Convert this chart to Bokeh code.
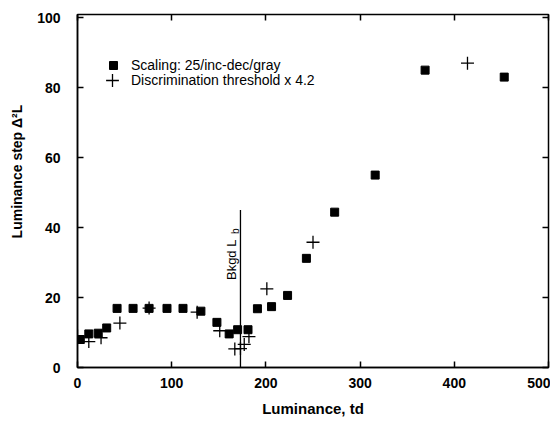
import numpy as np
from bokeh.plotting import figure
from bokeh.models import (Range1d, LinearAxis, FixedTicker, Legend, LegendItem,
                          CustomLabelingPolicy)
from bokeh.core.properties import value
from bokeh.embed import file_html
from bokeh.resources import INLINE

# Scaling: 25/inc-dec/gray (filled squares)
sq_x = [3, 12, 22, 31, 42, 59, 76, 95, 112, 131, 148, 161, 170, 181, 191, 206, 223, 243, 273, 316, 369, 453]
sq_y = [8.0, 9.6, 9.8, 11.3, 16.9, 16.9, 16.9, 16.9, 16.9, 16.1, 12.9, 9.6, 10.8, 10.8, 16.8, 17.4, 20.6, 31.2, 44.4, 55.0, 85.0, 83.0]

# Discrimination threshold x 4.2 (crosses)
cr_x = [0, 12, 25, 45, 76, 127, 151, 167, 173, 177, 182, 201, 250, 414]
cr_y = [9.0, 7.4, 8.5, 12.7, 17.0, 15.8, 10.5, 5.3, 5.4, 6.6, 8.8, 22.5, 35.8, 87.0]

# Background luminance marker
bkgd_x = 173
bkgd_top = 45
bkgd_label_y = 25.0

x_ticks = [0, 100, 200, 300, 400, 500]
y_ticks = [0, 20, 40, 60, 80, 100]

FONT = "Liberation Sans"

p = figure(width=550, height=423,
           x_range=Range1d(0, 500), y_range=Range1d(0, 100.9),
           output_backend="svg", toolbar_location=None,
           min_border_left=77, min_border_right=2,
           min_border_top=14, min_border_bottom=56)

p.xgrid.grid_line_color = None
p.ygrid.grid_line_color = None
p.outline_line_color = "black"
p.outline_line_width = 1.5
p.background_fill_color = "white"
p.border_fill_color = "white"

for ax in (p.xaxis[0], p.yaxis[0]):
    ax.major_tick_in = 6
    ax.major_tick_out = 0
    ax.minor_tick_line_color = None
    ax.axis_line_color = "black"
    ax.axis_line_width = 1.5
    ax.major_tick_line_width = 1.5
    ax.major_label_text_font = FONT
    ax.major_label_text_font_style = "bold"
    ax.major_label_text_font_size = "14px"
    ax.major_label_text_color = "black"
    ax.axis_label_text_font = FONT
    ax.axis_label_text_font_style = "bold"
    ax.axis_label_text_color = "black"

p.xaxis.ticker = FixedTicker(ticks=x_ticks)
p.yaxis.ticker = FixedTicker(ticks=y_ticks)
p.xaxis.major_label_standoff = 10
p.yaxis.major_label_standoff = 17

p.xaxis.axis_label = "Luminance, td"
p.xaxis.axis_label_text_font_size = "15px"
p.xaxis.axis_label_standoff = 9

# leading no-break spaces lift the label centre a little, as in the original
p.yaxis.axis_label = "\u00a0" * 10 + "Luminance step \u0394\u00b2L"
p.yaxis.axis_label_text_font_size = "14px"
p.yaxis.axis_label_standoff = 9

# inward ticks on top and right (no labels)
no_labels = CustomLabelingPolicy(code="""
for (let i = 0; i < indices.size; i++) { indices.unset(i) }
return indices
""")
top_ax = LinearAxis(ticker=FixedTicker(ticks=x_ticks), major_label_policy=no_labels,
                    major_label_text_font_size="0px",
                    major_tick_in=6, major_tick_out=0, axis_line_color=None,
                    minor_tick_line_color=None, major_label_standoff=0, major_tick_line_width=1.5)
right_ax = LinearAxis(ticker=FixedTicker(ticks=y_ticks), major_label_policy=no_labels,
                      major_label_text_font_size="0px",
                      major_tick_in=6, major_tick_out=0, axis_line_color=None,
                      minor_tick_line_color=None, major_label_standoff=0, major_tick_line_width=1.5)
p.add_layout(top_ax, "above")
p.add_layout(right_ax, "right")

r_sq = p.scatter(sq_x, sq_y, marker="square", size=8, fill_color="black", line_color="black")
r_cr = p.scatter(cr_x, cr_y, marker="cross", size=13, line_color="black", line_width=1.3)

p.segment(x0=[bkgd_x], y0=[0], x1=[bkgd_x], y1=[bkgd_top], line_color="black", line_width=1.3)
p.text(x=[bkgd_x], y=[bkgd_label_y], text=["Bkgd L"], angle=np.pi / 2, x_offset=-9,
       text_align="left", text_baseline="alphabetic", text_font=value(FONT),
       text_font_size="13px", text_color="black")
p.text(x=[bkgd_x], y=[bkgd_label_y], text=["b"], angle=np.pi / 2, x_offset=-5, y_offset=-46,
       text_align="left", text_baseline="alphabetic", text_font=value(FONT),
       text_font_size="10px", text_color="black")

common = dict(border_line_color=None, background_fill_alpha=0, padding=0, margin=0,
              spacing=0, label_height=14, label_text_font=FONT,
              label_text_font_size="14px", label_text_color="black")
leg1 = Legend(items=[LegendItem(label="Scaling: 25/inc-dec/gray", renderers=[r_sq])],
              location=(26, 292), glyph_width=20, glyph_height=20, label_standoff=8, **common)
leg2 = Legend(items=[LegendItem(label="Discrimination threshold x 4.2", renderers=[r_cr])],
              location=(19, 271), glyph_width=32, glyph_height=32, label_standoff=3, **common)
p.add_layout(leg1)
p.add_layout(leg2)

open("out.html", "w").write(file_html(p, INLINE))
